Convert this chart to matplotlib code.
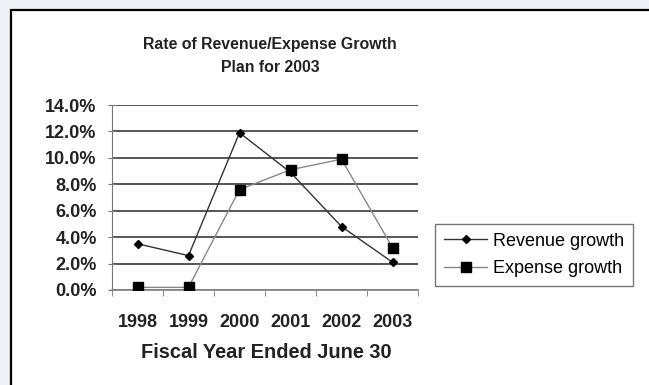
import matplotlib
matplotlib.use("Agg")
import matplotlib.pyplot as plt
from matplotlib.patches import Rectangle
from matplotlib.ticker import FuncFormatter

# datos
anios = ["1998", "1999", "2000", "2001", "2002", "2003"]
crecimiento_ingresos = [3.5, 2.6, 11.9, 8.9, 4.8, 2.1]
crecimiento_gastos = [0.2, 0.2, 7.6, 9.1, 9.9, 3.2]

plt.rcParams['font.family'] = ['Liberation Sans', 'DejaVu Sans']

fig = plt.figure(figsize=(6.49, 3.85), dpi=100)
fig.patch.set_facecolor("#eff0f5")

# recuadro blanco con borde negro (se sale por la derecha y abajo)
marco = Rectangle((11 / 649, -0.05), 1.0, 1 - 10 / 385 + 0.05,
                  transform=fig.transFigure, facecolor="white",
                  edgecolor="black", linewidth=1.6, zorder=-5)
fig.patches.append(marco)

ax = fig.add_axes([112 / 649, 1 - 290 / 385, (418 - 112) / 649, (290 - 105) / 385])
ax.set_facecolor("white")

x = list(range(len(anios)))
ax.plot(x, crecimiento_ingresos, color="#333333", lw=1.0, marker="D",
        markersize=4.5, markerfacecolor="black", markeredgecolor="black",
        label="Revenue growth", zorder=3)
ax.plot(x, crecimiento_gastos, color="#888888", lw=1.0, marker="s",
        markersize=6.5, markerfacecolor="black", markeredgecolor="black",
        label="Expense growth", zorder=3)

ax.set_xlim(-0.5, len(anios) - 0.5)
ax.set_ylim(0, 14)
ax.set_yticks([0, 2, 4, 6, 8, 10, 12, 14])
ax.yaxis.set_major_formatter(FuncFormatter(lambda v, p: f"{v:.1f}%"))
ax.grid(axis="y", color="#555555", lw=1.4)
ax.set_axisbelow(True)

ax.set_xticks(x)
ax.set_xticklabels(anios)
ax.set_xticks([i - 0.5 for i in range(len(anios) + 1)], minor=True)
ax.tick_params(axis="x", which="major", length=0, pad=17, labelsize=13)
ax.tick_params(axis="x", which="minor", length=4, color="#777777", direction="out")
ax.tick_params(axis="y", length=6, color="#777777", labelsize=13, pad=8, direction="inout")
for lbl in ax.get_xticklabels() + ax.get_yticklabels():
    lbl.set_fontweight("bold")
    lbl.set_color("#222222")

for lado in ["top", "right"]:
    ax.spines[lado].set_visible(False)
ax.spines["left"].set_color("#777777")
ax.spines["bottom"].set_color("#888888")
ax.spines["bottom"].set_linewidth(1.3)

fig.text(270 / 649, 1 - 45 / 385, "Rate of Revenue/Expense Growth",
         ha="center", va="center", fontsize=11.4, fontweight="bold", color="#222222")
fig.text(270 / 649, 1 - 68 / 385, "Plan for 2003",
         ha="center", va="center", fontsize=11.4, fontweight="bold", color="#222222")
fig.text(266 / 649, 1 - 353 / 385, "Fiscal Year Ended June 30",
         ha="center", va="center", fontsize=14.4, fontweight="bold", color="#222222")

leg = ax.legend(loc="center left", bbox_to_anchor=(435 / 649, 1 - 255 / 385),
                bbox_transform=fig.transFigure, frameon=True, fancybox=False,
                fontsize=13, handlelength=2.4, handletextpad=0.3,
                borderpad=0.5, borderaxespad=0, labelspacing=0.6)
leg.get_frame().set_edgecolor("#555555")
leg.get_frame().set_linewidth(1.0)

fig.savefig("out.png", dpi=100, facecolor=fig.get_facecolor())
